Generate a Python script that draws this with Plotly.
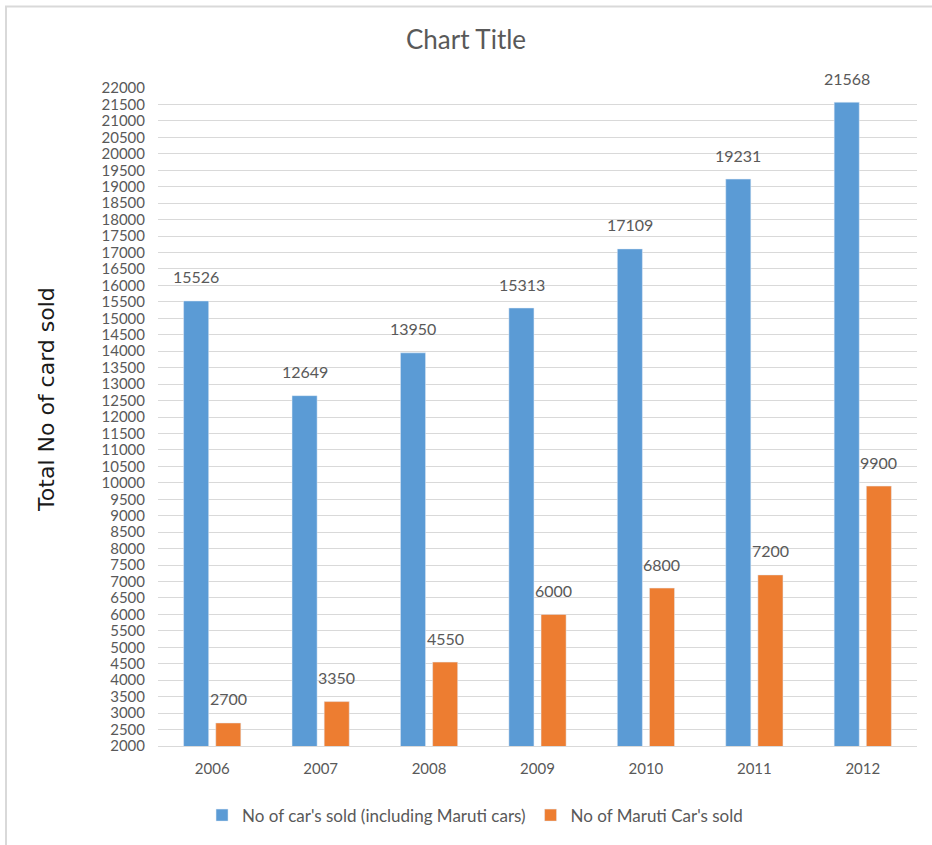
import plotly.graph_objects as go

years = ["2006", "2007", "2008", "2009", "2010", "2011", "2012"]
total_sold = [15526, 12649, 13950, 15313, 17109, 19231, 21568]
maruti_sold = [2700, 3350, 4550, 6000, 6800, 7200, 9900]
series_names = ["No of car's sold (including Maruti cars)", "No of Maruti Car's sold"]
y_ticks = list(range(2000, 22001, 500))

BLUE = "#5B9BD5"
ORANGE = "#ED7D31"
GREY = "#595959"
FONT = "Lato"

fig = go.Figure()
fig.add_trace(go.Bar(x=years, y=total_sold, name=series_names[0], marker_color=BLUE))
fig.add_trace(go.Bar(x=years, y=maruti_sold, name=series_names[1], marker_color=ORANGE))

annotations = []
for i, v in enumerate(total_sold):
    annotations.append(dict(x=i, y=v, text=str(v), showarrow=False, xshift=-16, yshift=24,
                            xanchor="center", yanchor="middle",
                            font=dict(family=FONT, size=16, color=GREY)))
for i, v in enumerate(maruti_sold):
    annotations.append(dict(x=i, y=v, text=str(v), showarrow=False, xshift=16, yshift=24,
                            xanchor="center", yanchor="middle",
                            font=dict(family=FONT, size=16, color=GREY)))

annotations.append(dict(xref="paper", yref="paper", x=(47 - 158) / 759, y=0.526,
                        xanchor="center", yanchor="middle",
                        text="Total No of card sold", textangle=-90, showarrow=False,
                        font=dict(family="DejaVu Sans", size=22, color="#1a1a1a")))

fig.update_layout(
    width=932, height=845,
    margin=dict(l=158, r=15, t=88, b=95),
    paper_bgcolor="white", plot_bgcolor="white",
    font=dict(family=FONT, size=15, color=GREY),
    title=dict(text="Chart Title", x=0.5, xanchor="center", y=1 - 40 / 845, yanchor="middle",
               font=dict(family=FONT, size=26, color=GREY)),
    barmode="group", bargap=0.407, bargroupgap=0.22,
    xaxis=dict(type="category", range=[-0.5, 6.5], showgrid=False, showline=True, linecolor="#D9D9D9",
               ticks="", ticklabelstandoff=9, tickfont=dict(family=FONT, size=15, color=GREY)),
    yaxis=dict(range=[2000, 22000], tickvals=y_ticks, ticktext=[str(t) for t in y_ticks],
               showgrid=True, gridcolor="#D9D9D9", zeroline=False, showline=False, ticks="",
               ticklabelstandoff=12, tickfont=dict(family=FONT, size=15, color=GREY)),
    legend=dict(orientation="h", x=0.4177, xanchor="center", y=-0.1057, yanchor="middle",
                font=dict(family=FONT, size=17, color=GREY), traceorder="normal"),
    annotations=annotations,
    shapes=[dict(type="rect", xref="paper", yref="paper",
                 x0=(6 - 158) / 759, y0=(750 - 860) / 662, x1=(945 - 158) / 759, y1=(750 - 6) / 662,
                 line=dict(color="#D9D9D9", width=2), fillcolor="rgba(0,0,0,0)", layer="below")],
)

fig.write_html("out.html", config={"displayModeBar": False},
               post_script="document.body.style.margin='0';")
